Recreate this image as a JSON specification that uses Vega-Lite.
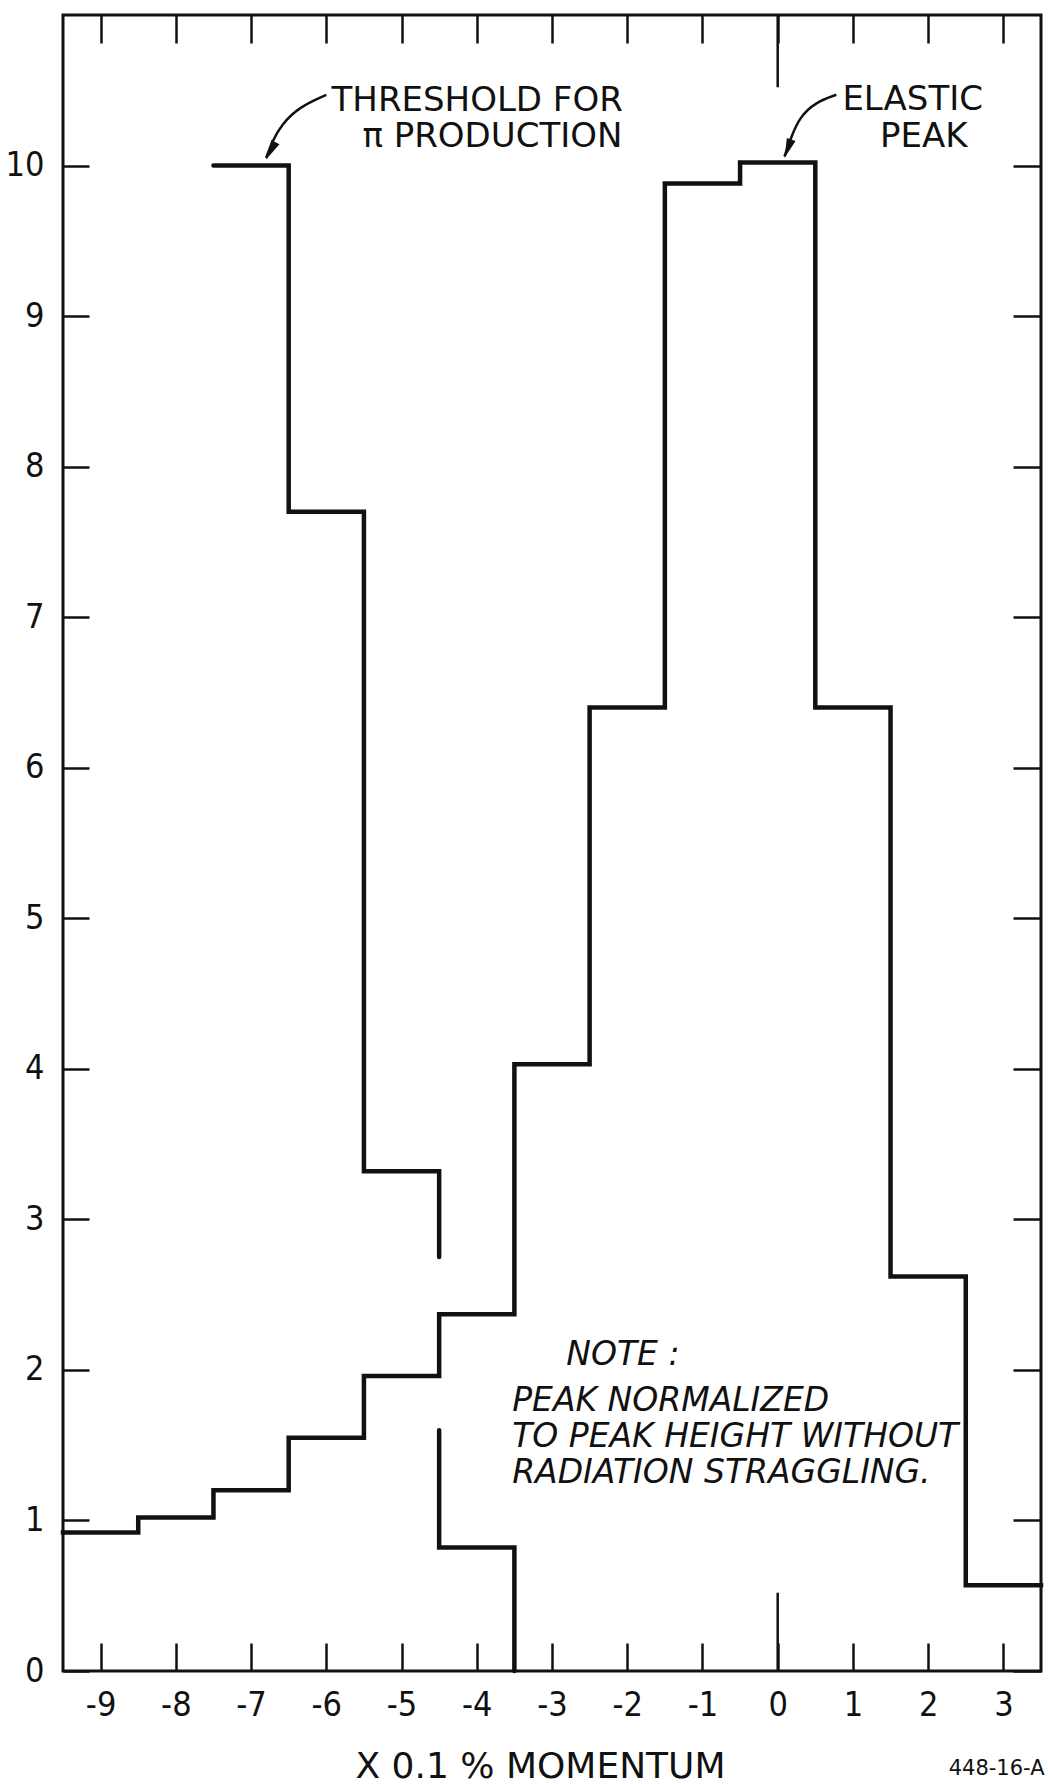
{
  "$schema": "https://vega.github.io/schema/vega-lite/v6.json",
  "width": 978,
  "height": 1656,
  "autosize": {"type": "none"},
  "padding": {"left": 63, "top": 15, "right": 7, "bottom": 114},
  "background": "white",
  "config": {
    "view": {"stroke": "#111", "strokeWidth": 3},
    "font": "Liberation Sans Narrow, DejaVu Sans Condensed, DejaVu Sans"
  },
  "datasets": {
    "elastic": [
      {"edge": -9.5, "count": 0.92},
      {"edge": -8.5, "count": 1.02},
      {"edge": -7.5, "count": 1.2},
      {"edge": -6.5, "count": 1.55},
      {"edge": -5.5, "count": 1.96},
      {"edge": -4.5, "count": 2.37},
      {"edge": -3.5, "count": 4.03},
      {"edge": -2.5, "count": 6.4},
      {"edge": -1.5, "count": 9.88},
      {"edge": -0.5, "count": 10.02},
      {"edge": 0.5, "count": 6.4},
      {"edge": 1.5, "count": 2.62},
      {"edge": 2.5, "count": 0.57},
      {"edge": 3.5, "count": 0.57}
    ],
    "threshold": [
      {"i": 0, "seg": "a", "edge": -7.5, "count": 10.0},
      {"i": 1, "seg": "a", "edge": -6.5, "count": 7.7},
      {"i": 2, "seg": "a", "edge": -5.5, "count": 3.32},
      {"i": 3, "seg": "a", "edge": -4.5, "count": 2.75},
      {"i": 4, "seg": "b", "edge": -4.5, "count": 1.6},
      {"i": 5, "seg": "b", "edge": -4.5, "count": 0.82},
      {"i": 6, "seg": "b", "edge": -3.5, "count": 0.0}
    ],
    "zeroTicks": [
      {"edge": 0, "count": 0, "count2": 0.52},
      {"edge": 0, "count": 11, "count2": 10.52}
    ],
    "arrows": [
      {"arrow": "threshold", "i": 0, "edge": -6.0, "count": 10.47},
      {"arrow": "threshold", "i": 1, "edge": -6.36, "count": 10.39},
      {"arrow": "threshold", "i": 2, "edge": -6.6, "count": 10.27},
      {"arrow": "threshold", "i": 3, "edge": -6.72, "count": 10.16},
      {"arrow": "threshold", "i": 4, "edge": -6.8, "count": 10.05},
      {"arrow": "elastic", "i": 0, "edge": 0.78, "count": 10.47},
      {"arrow": "elastic", "i": 1, "edge": 0.5, "count": 10.42},
      {"arrow": "elastic", "i": 2, "edge": 0.29, "count": 10.32},
      {"arrow": "elastic", "i": 3, "edge": 0.18, "count": 10.19},
      {"arrow": "elastic", "i": 4, "edge": 0.09, "count": 10.06}
    ],
    "labels": [
      {"label": "THRESHOLD FOR", "edge": -5.93, "count": 10.36},
      {"label": "π PRODUCTION", "edge": -5.52, "count": 10.12},
      {"label": "ELASTIC", "edge": 0.86, "count": 10.37},
      {"label": "PEAK", "edge": 1.36, "count": 10.12}
    ],
    "note": [
      {"label": "NOTE :", "edge": -2.81, "count": 2.03},
      {"label": "PEAK NORMALIZED", "edge": -3.53, "count": 1.73},
      {"label": "TO PEAK HEIGHT WITHOUT", "edge": -3.53, "count": 1.49},
      {"label": "RADIATION STRAGGLING.", "edge": -3.53, "count": 1.25}
    ],
    "figId": [
      {"label": "448-16-A", "edge": 2.91, "count": -0.69}
    ]
  },
  "layer": [
    {
      "data": {"name": "elastic"},
      "mark": {"type": "line", "interpolate": "step-after", "stroke": "#111", "strokeWidth": 4.5, "strokeJoin": "miter", "strokeCap": "square"},
      "encoding": {
        "x": {
          "field": "edge", "type": "quantitative",
          "scale": {"domain": [-9.5, 3.5], "nice": false, "zero": false},
          "axis": {
            "orient": "bottom",
            "values": [-9, -8, -7, -6, -5, -4, -3, -2, -1, 0, 1, 2, 3],
            "labelExpr": "toString(datum.value)",
            "tickSize": -28, "tickWidth": 2.5, "tickColor": "#111",
            "domain": false, "grid": false,
            "labelPadding": 45, "labelFontSize": 34, "labelColor": "#111",
            "labelFlush": false, "labelOverlap": false,
            "title": "X 0.1 % MOMENTUM",
            "titleFont": "DejaVu Sans",
            "titleFontSize": 36, "titleFontWeight": "normal", "titleColor": "#111",
            "titleX": 477, "titleY": 106, "titleBaseline": "alphabetic", "titleAlign": "center", "titleAnchor": null
          }
        },
        "y": {
          "field": "count", "type": "quantitative",
          "scale": {"domain": [0, 11], "nice": false, "zero": false},
          "axis": {
            "orient": "left",
            "values": [0, 1, 2, 3, 4, 5, 6, 7, 8, 9, 10],
            "tickSize": -26, "tickWidth": 2.5, "tickColor": "#111",
            "domain": false, "grid": false,
            "labelPadding": 45, "labelFontSize": 34, "labelColor": "#111",
            "labelFlush": false, "labelOverlap": false,
            "title": null
          }
        }
      }
    },
    {
      "data": {"name": "threshold"},
      "mark": {"type": "line", "interpolate": "step-after", "stroke": "#111", "strokeWidth": 4.5, "strokeJoin": "miter", "strokeCap": "round"},
      "encoding": {
        "x": {"field": "edge", "type": "quantitative", "axis": null},
        "y": {"field": "count", "type": "quantitative", "axis": null},
        "detail": {"field": "seg"},
        "order": {"field": "i", "type": "quantitative"}
      }
    },
    {
      "data": {"name": "zeroTicks"},
      "mark": {"type": "rule", "stroke": "#111", "strokeWidth": 2.5},
      "encoding": {
        "x": {
          "field": "edge", "type": "quantitative",
          "axis": {
            "orient": "top",
            "values": [-9, -8, -7, -6, -5, -4, -3, -2, -1, 0, 1, 2, 3],
            "tickSize": -28, "tickWidth": 2.5, "tickColor": "#111",
            "domain": false, "grid": false, "labels": false, "title": null
          }
        },
        "y": {
          "field": "count", "type": "quantitative",
          "axis": {
            "orient": "right",
            "values": [0, 1, 2, 3, 4, 5, 6, 7, 8, 9, 10],
            "tickSize": -28, "tickWidth": 2.5, "tickColor": "#111",
            "domain": false, "grid": false, "labels": false, "title": null
          }
        },
        "y2": {"field": "count2"}
      }
    },
    {
      "data": {"name": "arrows"},
      "mark": {"type": "line", "interpolate": "basis", "stroke": "#111", "strokeWidth": 2.5},
      "encoding": {
        "x": {"field": "edge", "type": "quantitative", "axis": null},
        "y": {"field": "count", "type": "quantitative", "axis": null},
        "detail": {"field": "arrow"},
        "order": {"field": "i", "type": "quantitative"}
      }
    },
    {
      "data": {"values": [{"edge": -6.8, "count": 10.04}]},
      "mark": {"type": "point", "shape": "M0,0L-0.42,-1.8L0.42,-1.8Z", "filled": true, "color": "#111", "opacity": 1, "size": 480, "angle": 28},
      "encoding": {
        "x": {"field": "edge", "type": "quantitative", "axis": null},
        "y": {"field": "count", "type": "quantitative", "axis": null}
      }
    },
    {
      "data": {"values": [{"edge": 0.09, "count": 10.05}]},
      "mark": {"type": "point", "shape": "M0,0L-0.42,-1.8L0.42,-1.8Z", "filled": true, "color": "#111", "opacity": 1, "size": 480, "angle": 20},
      "encoding": {
        "x": {"field": "edge", "type": "quantitative", "axis": null},
        "y": {"field": "count", "type": "quantitative", "axis": null}
      }
    },
    {
      "data": {"name": "labels"},
      "mark": {"type": "text", "align": "left", "baseline": "alphabetic", "fontSize": 34, "color": "#111", "font": "DejaVu Sans"},
      "encoding": {
        "x": {"field": "edge", "type": "quantitative", "axis": null},
        "y": {"field": "count", "type": "quantitative", "axis": null},
        "text": {"field": "label"}
      }
    },
    {
      "data": {"name": "note"},
      "mark": {"type": "text", "align": "left", "baseline": "alphabetic", "fontSize": 33, "fontStyle": "italic", "color": "#111", "font": "DejaVu Sans"},
      "encoding": {
        "x": {"field": "edge", "type": "quantitative", "axis": null},
        "y": {"field": "count", "type": "quantitative", "axis": null},
        "text": {"field": "label"}
      }
    },
    {
      "data": {"name": "figId"},
      "mark": {"type": "text", "align": "center", "baseline": "alphabetic", "fontSize": 21, "color": "#111", "clip": false, "font": "DejaVu Sans"},
      "encoding": {
        "x": {"field": "edge", "type": "quantitative", "axis": null},
        "y": {"field": "count", "type": "quantitative", "axis": null},
        "text": {"field": "label"}
      }
    }
  ],
  "resolve": {"axis": {"x": "independent", "y": "independent"}}
}
